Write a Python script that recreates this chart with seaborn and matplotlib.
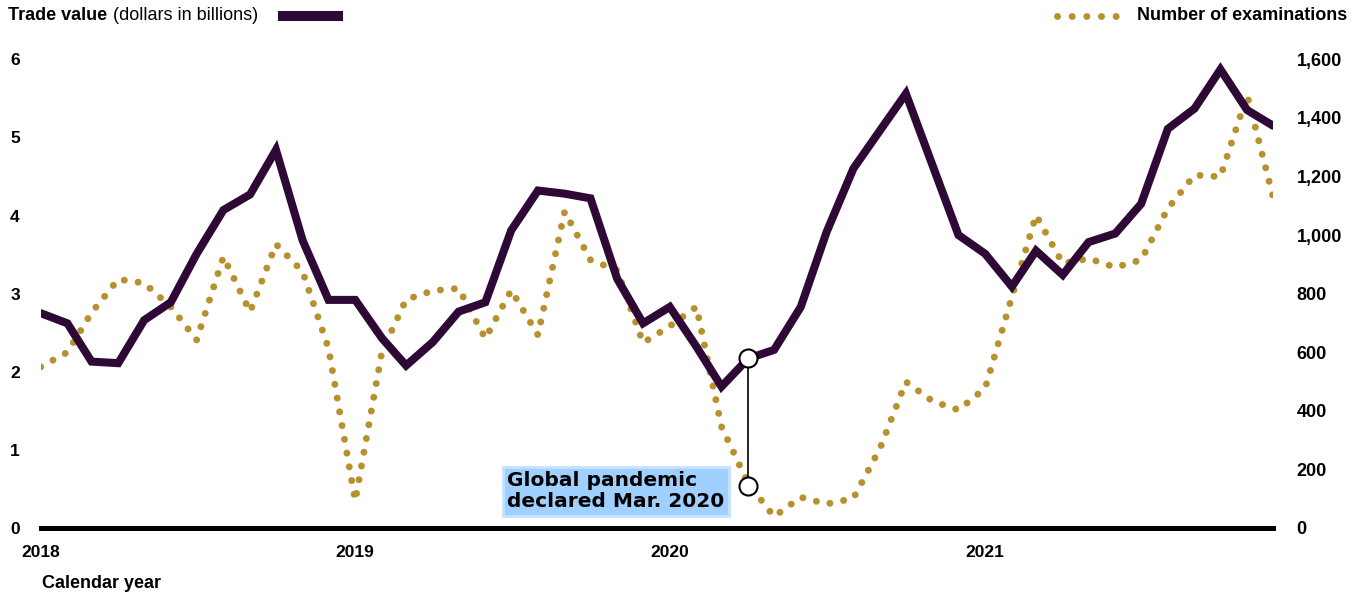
import pandas as pd
import matplotlib.pyplot as plt
import seaborn as sns
from matplotlib.lines import Line2D

# --- data (monthly, Jan 2018 - Dec 2021) ---
MONTHS = pd.date_range("2018-01-01", periods=48, freq="MS")

TRADE_VALUE = [2.75, 2.62, 2.13, 2.11, 2.66, 2.89, 3.51, 4.07, 4.27, 4.84, 3.68, 2.92,
               2.92, 2.43, 2.08, 2.38, 2.77, 2.89, 3.81, 4.32, 4.28, 4.22, 3.19, 2.62,
               2.83, 2.32, 1.81, 2.17, 2.28, 2.83, 3.79, 4.60, 5.09, 5.56, 4.64, 3.75,
               3.51, 3.09, 3.55, 3.24, 3.66, 3.77, 4.15, 5.11, 5.37, 5.87, 5.35, 5.15]

EXAMINATIONS = [550, 600, 735, 849, 836, 755, 642, 926, 738, 969, 875, 613,
                93, 602, 780, 810, 818, 647, 812, 659, 1080, 915, 880, 632,
                689, 755, 346, 152, 39, 105, 82, 101, 272, 499, 433, 403,
                477, 789, 1068, 903, 920, 890, 915, 1091, 1205, 1199, 1478, 1131]

YEAR_TICKS = pd.to_datetime(["2018-01-01", "2019-01-01", "2020-01-01", "2021-01-01"])
YEAR_LABELS = ["2018", "2019", "2020", "2021"]
LEFT_TICKS = [0, 1, 2, 3, 4, 5, 6]
RIGHT_TICKS = [0, 200, 400, 600, 800, 1000, 1200, 1400, 1600]

PANDEMIC_IDX = 27
PANDEMIC_LOW = 0.54
PANDEMIC_TEXT = "Global pandemic\ndeclared Mar. 2020"

PURPLE = "#2E0935"
GOLD = "#B8912F"
DOTS = (0, (0.01, 2.0))

sns.set_theme(style="white")
plt.rcParams['font.family'] = ['Liberation Sans', 'DejaVu Sans']
plt.rcParams['font.weight'] = 'bold'
plt.rcParams['text.color'] = 'black'

W, H = 1361, 597
fig = plt.figure(figsize=(W / 100, H / 100), dpi=100)
ax = fig.add_axes([40.7 / W, 1 - 528 / H, (1273 - 40.7) / W, (528 - 59.3) / H])
ax2 = ax.twinx()

df = pd.DataFrame({"month": MONTHS, "trade": TRADE_VALUE, "exams": EXAMINATIONS})

sns.lineplot(data=df, x="month", y="exams", ax=ax2, color=GOLD, linewidth=5,
             linestyle=DOTS, dash_capstyle="round")
sns.lineplot(data=df, x="month", y="trade", ax=ax, color=PURPLE, linewidth=5.8,
             solid_joinstyle="miter")

# trade line above the dots
ax.set_zorder(ax2.get_zorder() + 1)
ax.patch.set_visible(False)

# pandemic marker
x_p = MONTHS[PANDEMIC_IDX]
ax.plot([x_p, x_p], [TRADE_VALUE[PANDEMIC_IDX], PANDEMIC_LOW], color="black",
        linewidth=1.2, zorder=5)
ax.plot([x_p, x_p], [TRADE_VALUE[PANDEMIC_IDX], PANDEMIC_LOW], linestyle="none",
        marker="o", markersize=13, markerfacecolor="white", markeredgecolor="black",
        markeredgewidth=1.5, zorder=6)
ax.annotate(PANDEMIC_TEXT, xy=(x_p, 0.47), xytext=(-24, 0), textcoords="offset pixels",
            ha="right", va="center", multialignment="left", fontsize=14.5,
            family="DejaVu Sans", weight="bold", linespacing=1.12, color="black",
            bbox=dict(boxstyle="square,pad=0.22", facecolor="#9FD0FF", edgecolor="#C4E2FF",
                      linewidth=2))

# axes styling
ax.set_xlim(MONTHS[0], MONTHS[-1])
ax.set_ylim(0, 6)
ax2.set_ylim(0, 1600)
for a in (ax, ax2):
    for s in a.spines.values():
        s.set_visible(False)
ax.spines["bottom"].set_visible(True)
ax.spines["bottom"].set_color("black")
ax.spines["bottom"].set_linewidth(3.6)

ax.set_xticks(YEAR_TICKS)
ax.set_xticklabels(YEAR_LABELS)
ax.set_yticks(LEFT_TICKS)
ax.set_yticklabels([str(t) for t in LEFT_TICKS])
ax2.set_yticks(RIGHT_TICKS)
ax2.set_yticklabels([f"{t:,}" for t in RIGHT_TICKS])
ax.tick_params(axis="x", length=0, pad=12, labelsize=12.5, colors="black")
ax.tick_params(axis="y", length=0, pad=15, labelsize=12.5, colors="black")
ax2.tick_params(axis="y", length=0, pad=17, labelsize=13, colors="black")
ax.set_xlabel("")
ax.set_ylabel("")
ax2.set_ylabel("")
ax.grid(False)
ax2.grid(False)

# header legend
fig.text(8 / W, 1 - 16 / H, "Trade value", fontsize=13, weight="bold", va="center")
fig.text(113 / W, 1 - 16 / H, "(dollars in billions)", fontsize=13, weight="normal", va="center")
fig.add_artist(Line2D([278 / W, 343 / W], [1 - 16 / H, 1 - 16 / H], color=PURPLE,
                      linewidth=7.2, solid_capstyle="butt", transform=fig.transFigure))
fig.add_artist(Line2D([1057 / W, 1117 / W], [1 - 16 / H, 1 - 16 / H], color=GOLD,
                      linewidth=5, linestyle=(0, (0.01, 2.1)), dash_capstyle="round",
                      transform=fig.transFigure))
fig.text(1137 / W, 1 - 16 / H, "Number of examinations", fontsize=13, weight="bold", va="center")

fig.text(42 / W, 1 - 583 / H, "Calendar year", fontsize=13, weight="bold", va="center")

fig.savefig("out.png", dpi=100)
